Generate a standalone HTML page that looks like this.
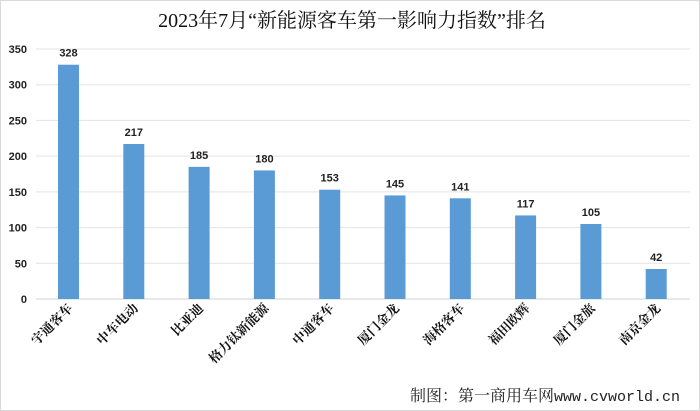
<!DOCTYPE html>
<html><head><meta charset="utf-8"><style>
body{margin:0;background:#fff}
svg{display:block}
</style></head><body>
<svg width="700" height="411" id="c">
<rect x="0.5" y="0.5" width="699" height="410" fill="#fff" stroke="#d9d9d9"/>
<text x="352" y="27" text-anchor="middle" font-family="Liberation Serif, 'Noto Serif CJK SC', serif" font-size="20" fill="#111">2023年7月“新能源客车第一影响力指数”排名</text>
<g id="grid"></g><g id="bars"></g><g id="xl"></g>
<text x="680" y="401" text-anchor="end" font-family="Liberation Serif, 'Noto Serif CJK SC', serif" font-size="16" fill="#222">制图：第一商用车网<tspan font-family="Liberation Mono, monospace" font-size="15">www.cvworld.cn</tspan></text>
</svg>
<script>
const categories=["宇通客车","中车电动","比亚迪","格力钛新能源","中通客车","厦门金龙","海格客车","福田欧辉","厦门金旅","南京金龙"];
const values=[328,217,185,180,153,145,141,117,105,42];
const ticks=[0,50,100,150,200,250,300,350];
const NS="http://www.w3.org/2000/svg";
const y0=299,yTop=49,max=350,x0=36,x1=690;
const y=v=>y0-(v/max)*(y0-yTop);
const step=65.3,first=68.5,bw=21;
const x=i=>first+i*step;
function mk(t,a,p){const e=document.createElementNS(NS,t);for(const k in a)e.setAttribute(k,a[k]);p.appendChild(e);return e;}
const g=document.getElementById('grid'),b=document.getElementById('bars'),xl=document.getElementById('xl');
ticks.forEach(t=>{
 const l=mk('line',{x1:x0,x2:x1,y1:y(t),y2:y(t),stroke:t===0?'#d0d0d0':'#e3e3e3','stroke-width':1},g);
 
 
 const tx=mk('text',{x:27,y:y(t)+4,'text-anchor':'end','font-family':'Liberation Sans, sans-serif','font-size':11,'font-weight':'bold',fill:'#222'},g);
 tx.textContent=t;
 
 
});
values.forEach((v,i)=>{
 const r=mk('rect',{x:x(i)-bw/2,y:y(v),width:bw,height:y0-y(v),fill:'#5b9bd5'},b);
 
 
 const t=mk('text',{x:x(i),y:y(v)-8,'text-anchor':'middle','font-family':'Liberation Sans, sans-serif','font-size':11,'font-weight':'bold',fill:'#222'},b);
 t.textContent=v;
 
 
 const c=mk('text',{x:0,y:0,'text-anchor':'end','font-family':"'Noto Serif CJK SC', serif",'font-size':13,'font-weight':'bold',fill:'#111',transform:`translate(${x(i)+5},${y0+10}) rotate(-45)`},xl);
 c.textContent=categories[i];
 
 
});
</script>
</body></html>
